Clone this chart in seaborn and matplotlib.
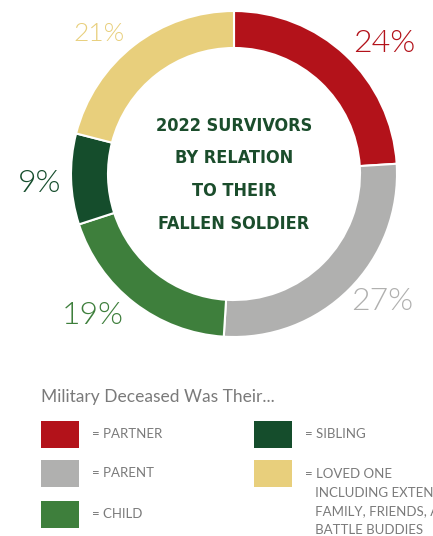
import matplotlib
matplotlib.use("Agg")
import matplotlib.pyplot as plt
import seaborn as sns
from matplotlib.patches import Rectangle

sns.set_theme(style="white")
plt.rcParams['font.family'] = ['Lato', 'DejaVu Sans']

# data
categories = ['PARTNER', 'PARENT', 'CHILD', 'SIBLING', 'LOVED ONE']
shares = [24, 27, 19, 9, 21]
colors = ['#B3121A', '#B0B0AF', '#3E7F3C', '#154D2C', '#E8CF7C']
legend_labels = ['= PARTNER', '= PARENT', '= CHILD', '= SIBLING',
                 '= LOVED ONE\n   INCLUDING EXTENDED\n   FAMILY, FRIENDS, AND\n   BATTLE BUDDIES']
title_lines = '2022 SURVIVORS\nBY RELATION\nTO THEIR\nFALLEN SOLDIER'

# label placement (axes data units, radius = 1)
label_pos = [(0.92, 0.80), (0.91, -0.78), (-0.865, -0.87), (-1.19, -0.06), (-0.83, 0.86)]
label_sizes = [23, 23, 23, 23, 19]

fig = plt.figure(figsize=(4.33, 5.36), dpi=100)
fig.patch.set_facecolor('white')

# donut
ax = fig.add_axes([71 / 433, (536 - 337) / 536, 326 / 433, 326 / 536])
wedges, texts, pcts = ax.pie(
    shares, colors=colors, startangle=90, counterclock=False,
    wedgeprops=dict(width=0.227, edgecolor='white', linewidth=1.5),
    autopct=lambda p: f'{p:.0f}%', pctdistance=1.22)
for t, c, s, pos in zip(pcts, colors, label_sizes, label_pos):
    t.set_color(c)
    t.set_fontsize(s)
    t.set_fontweight(300)
    t.set_position(pos)
ax.set_xlim(-1, 1)
ax.set_ylim(-1, 1)
ax.set_aspect('equal')
ax.axis('off')

ax.text(0, -0.005, title_lines, ha='center', va='center', color='#1B4D2C',
        fontsize=13, fontweight='bold', linespacing=2.05,
        family=['DejaVu Sans'], fontstretch='condensed')

# legend
fig.text(41 / 433, 1 - 397 / 536, 'Military Deceased Was Their...',
         color='#7A7A7A', fontsize=12.5, va='center', ha='left')
col_x = [41, 41, 41, 254, 254]
row_y = [421, 460, 501, 421, 460]
for x, y, c, lab in zip(col_x, row_y, colors, legend_labels):
    fig.patches.append(Rectangle((x / 433, 1 - (y + 27) / 536), 38 / 433, 27 / 536,
                                 transform=fig.transFigure, facecolor=c, edgecolor='none'))
    multi = '\n' in lab
    fig.text((x + 51) / 433, 1 - (y + (8 if multi else 13)) / 536, lab, color='#7A7A7A',
             fontsize=9.5, va='top' if multi else 'center', ha='left',
             linespacing=1.68)

plt.savefig('out.png', dpi=100)
